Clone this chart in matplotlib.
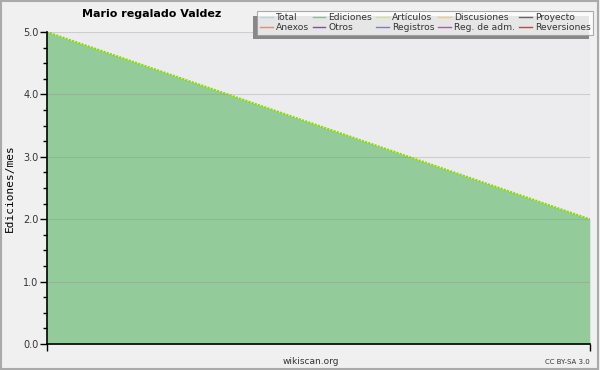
import matplotlib
matplotlib.use('Agg')
import matplotlib.pyplot as plt
from matplotlib.lines import Line2D
from matplotlib.patches import Rectangle
from matplotlib.ticker import MultipleLocator

# data
x_vals = [0, 1]
edits_per_month = [5.0, 2.0]
y_ticks = [0.0, 1.0, 2.0, 3.0, 4.0, 5.0]
legend_labels = ['Total', 'Ediciones', 'Artículos', 'Discusiones', 'Proyecto',
                 'Anexos', 'Otros', 'Registros', 'Reg. de adm.', 'Reversiones']
legend_colors = ['#aadddd', '#77cc88', '#ccee66', '#ffcc55', '#666666',
                 '#ff8844', '#8844cc', '#7777ee', '#cc44cc', '#ee3333']

fig = plt.figure(figsize=(6, 3.7), dpi=100, facecolor='#f0f0f0')
fig.patches.append(Rectangle((0.002, 0.003), 0.995, 0.994, transform=fig.transFigure,
                             fill=False, edgecolor='#aaaaaa', linewidth=1.5))
ax = fig.add_axes([0.078, 0.0703, 0.905, 0.8432])
ax.set_facecolor('#ececee')

ax.fill_between(x_vals, edits_per_month, 0, color='#93cc9a', linewidth=0)
ax.plot(x_vals, edits_per_month, color='#88dd00', linewidth=1.5, linestyle=(0, (1, 0.6)))

ax.set_xlim(0, 1)
ax.set_ylim(0, 5)
ax.set_xticks([0, 1])
ax.set_xticklabels([])
ax.set_yticks(y_ticks)
ax.set_yticklabels([f'{v:.1f}' for v in y_ticks], fontsize=7, color='#333333')
ax.yaxis.set_minor_locator(MultipleLocator(0.25))
ax.tick_params(axis='both', which='major', length=5, width=1, color='black', pad=1)
ax.tick_params(axis='y', which='minor', length=3, width=1, color='black')
ax.grid(axis='y', color='#888888', alpha=0.3, linewidth=0.8)
ax.set_axisbelow(False)
for side in ['top', 'right']:
    ax.spines[side].set_visible(False)
ax.spines['left'].set_linewidth(1.2)
ax.spines['bottom'].set_linewidth(1.2)
ax.set_ylabel('Ediciones/mes', fontsize=8, family='DejaVu Sans Mono', labelpad=6)

fig.text(0.252, 0.962, 'Mario regalado Valdez', fontsize=8, fontweight='bold',
         ha='center', va='center')
fig.text(0.518, 0.022, 'wikiscan.org', fontsize=6.5, color='#333333', ha='center', va='center')
fig.text(0.983, 0.022, 'CC BY-SA 3.0', fontsize=5, color='#333333', ha='right', va='center')

# legend: matplotlib fills columns first, so reorder to read row by row
order = [0, 5, 1, 6, 2, 7, 3, 8, 4, 9]
handles = [Line2D([], [], color=legend_colors[i], linewidth=1) for i in order]
labels = [legend_labels[i] for i in order]
leg = fig.legend(handles, labels, ncol=5, loc='upper right',
                 bbox_to_anchor=(593 / 600, 1 - 11 / 370),
                 prop={'size': 6.6}, frameon=True, fancybox=False,
                 handlelength=1.4, handletextpad=0.35, columnspacing=0.4,
                 labelspacing=0.1, borderpad=0.25, borderaxespad=0)
leg.set_zorder(10)
for t in leg.get_texts():
    t.set_color('#333333')
leg.get_frame().set_edgecolor('#999999')
leg.get_frame().set_facecolor('white')
leg.get_frame().set_linewidth(0.8)

# legend shadow offset down-left, sized from the legend frame
fig.canvas.draw()
bb = leg.get_window_extent().transformed(fig.transFigure.inverted())
fig.patches.append(Rectangle((bb.x0 - 4 / 600, bb.y0 - 5 / 370), bb.width, bb.height,
                             transform=fig.transFigure, facecolor='#888888',
                             edgecolor='none', zorder=9))

plt.savefig('out.png', dpi=100, facecolor=fig.get_facecolor())
plt.close()
